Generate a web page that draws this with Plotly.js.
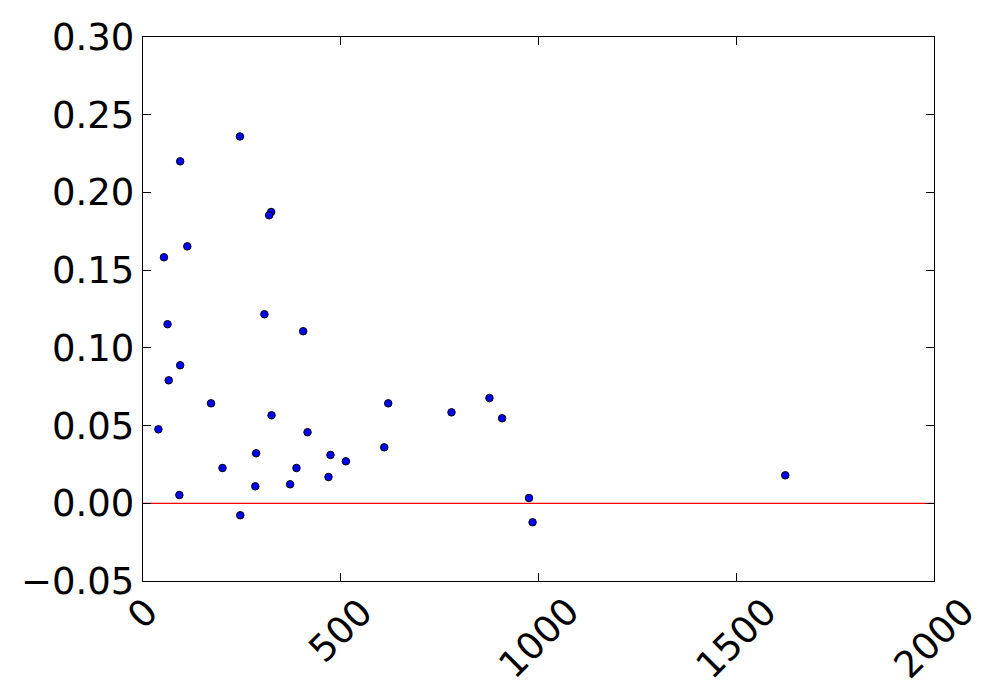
<!DOCTYPE html>
<html>
<head>
<meta charset="utf-8">
<script src="https://cdn.plot.ly/plotly-3.0.1.min.js"></script>
<style>html,body{margin:0;padding:0;background:#fff;}#chart{width:1000px;height:700px;}</style>
</head>
<body>
<div id="chart"></div>
<script>
var xValues = [245, 94, 324, 319, 112, 53, 62, 307, 405, 94, 65, 172, 325, 39, 416, 286, 474, 201, 388, 469, 372, 284, 92, 246, 620, 610, 513, 780, 876, 908, 976, 985, 1624];
var yValues = [0.236, 0.220, 0.1874, 0.1853, 0.1653, 0.1583, 0.1152, 0.1216, 0.1107, 0.0888, 0.0791, 0.0643, 0.0566, 0.0476, 0.0457, 0.0322, 0.0311, 0.0227, 0.0227, 0.0169, 0.0122, 0.0109, 0.0053, -0.0077, 0.0643, 0.0360, 0.0270, 0.0585, 0.0677, 0.0547, 0.0034, -0.0122, 0.0180];
var xTickValues = [0, 500, 1000, 1500, 2000];
var xTickLabels = ['0', '500', '1000', '1500', '2000'];
var yTickValues = [-0.05, 0.00, 0.05, 0.10, 0.15, 0.20, 0.25, 0.30];

var fontFamily = 'DejaVu Sans, sans-serif';

var trace = {
  x: xValues,
  y: yValues,
  type: 'scatter',
  mode: 'markers',
  marker: {color: '#0000ff', size: 7.5, line: {color: '#000000', width: 1}},
  hoverinfo: 'x+y'
};

var annotations = xTickValues.map(function (v, i) {
  return {
    x: v, xref: 'x', y: 0, yref: 'paper',
    text: xTickLabels[i], showarrow: false,
    textangle: -45, xanchor: 'center', yanchor: 'top', yshift: -6,
    font: {family: fontFamily, size: 37, color: '#000000'}
  };
});

var layout = {
  width: 1000, height: 700,
  margin: {l: 143, r: 66, t: 37, b: 119, pad: 0},
  paper_bgcolor: '#ffffff', plot_bgcolor: '#ffffff',
  showlegend: false,
  font: {family: fontFamily, size: 37, color: '#000000'},
  xaxis: {
    range: [0, 2000], tickvals: xTickValues, showticklabels: false,
    ticks: 'inside', ticklen: 8, tickwidth: 1, tickcolor: '#000000',
    showline: true, linecolor: '#000000', linewidth: 1.3, mirror: 'ticks',
    showgrid: false, zeroline: false
  },
  yaxis: {
    range: [-0.05, 0.30], tickvals: yTickValues, tickformat: '.2f',
    ticks: 'inside', ticklen: 8, tickwidth: 1, tickcolor: '#000000',
    showline: true, linecolor: '#000000', linewidth: 1.3, mirror: 'ticks',
    showgrid: false, zeroline: false,
    tickfont: {family: fontFamily, size: 37, color: '#000000'}
  },
  shapes: [{
    type: 'line', xref: 'paper', x0: 0, x1: 1, yref: 'y', y0: 0, y1: 0,
    line: {color: '#ff0000', width: 1.2}, layer: 'below'
  }],
  annotations: annotations
};

Plotly.newPlot('chart', [trace], layout, {displayModeBar: false, staticPlot: true});
</script>
</body>
</html>
